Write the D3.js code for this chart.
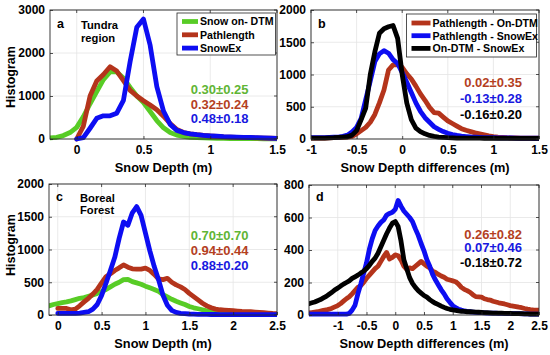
<!DOCTYPE html>
<html><head><meta charset="utf-8">
<script src="https://cdn.jsdelivr.net/npm/d3@7"></script>
<style>body{margin:0;background:#fff}svg{display:block}</style>
</head><body>
<svg id="c" width="550" height="355"></svg>
<script>
// ---------- DATA ----------
// bin centres (regular histogram grid) for each panel
const aBins = d3.range(-0.2, 1.5001, 0.05);
const bBins = d3.range(-1.0, 1.5001, 0.05);
const cBins = d3.range(-0.1, 2.5001, 0.05);
const dBins = d3.range(-1.5, 2.5001, 0.05);

// panel a – Tundra region
const aSnowOnDTM = [25,40,80,150,270,520,820,1100,1380,1560,1560,1420,1200,1000,850,640,430,260,150,90,60,40,30,25,20,18,15,12,10,10,8,8,6,5,5];
const aPathlength = [null,null,null,null,0,300,1000,1350,1500,1680,1580,1360,1130,1000,890,790,680,530,360,220,150,120,100,85,70,60,50,45,40,35,30,25,20,18,15];
const aSnowEx = [null,null,null,null,0,30,250,480,540,540,600,900,1800,2600,2790,2180,1220,650,340,200,150,120,100,85,75,65,55,50,45,40,35,30,25,20,15];

// panel b – differences, Tundra
const bPathOnDTM = [15,15,15,15,18,20,22,25,30,40, 80,130,180,260,380,560,760,1070,1150,1150, 1110,1010,930,820,700,600,490,410,400,340, 280,240,200,160,135,115,95,80,65,50, 38,30,25,20,18,16,15,14,13,12, 12];
const bPathSnowEx = [20,20,20,22,24,27,30,40,60,110, 180,320,610,900,1200,1320,1370,1330,1230,1170, 1030,880,720,560,430,330,260,190,150,115, 90,70,55,45,38,32,28,25,22,21, 20,19,18,17,16,15,14,13,13,12, 12];
const bOnDTMSnowEx = [15,15,15,15,18,20,25,30,35,60, 130,300,480,1000,1350,1640,1710,1740,1760,1560, 1000,560,300,170,115,80,55,40,30,25, 20,17,15,15,14,14,13,13,12,12, 12,11,11,11,10,10,10,10,10,10, 10];

// panel c – Boreal Forest
const cSnowOnDTM = [140,160,175,190,200,215,235,255,265,285, 305,330,360,390,430,470,500,540,545,510, 490,470,440,415,390,360,310,275,240,210, 185,160,130,110,95,80,65,55,45,38, 32,28,25,22,20,18,16,15,14,13, 12,11,10];
const cPathlength = [null,null,100,100,100,80,90,140,200,255, 320,390,490,585,630,680,720,765,730,705, 700,700,715,680,620,550,540,560,500,460, 430,390,330,280,230,180,140,110,90,80, 75,70,65,60,55,52,50,45,40,35, 30,25,22];
const cSnowEx = [null,null,25,25,25,25,25,30,40,50, 90,160,300,485,680,880,1170,1420,1370,1560, 1655,1520,1250,980,740,535,300,150,70,40, 25,20,15,12,10,10,9,8,8,7, 7,6,6,6,5,5,5,5,5,5, 5,5,5];

// panel d – differences, Boreal Forest
const dPathOnDTM = [12,15,18,20,24,28,31,36,42,50, 58,70,85,100,112,130,150,170,180,200, 226,245,265,285,300,330,360,385,345,355, 370,365,338,300,280,290,285,300,315,330, 315,300,290,270,262,250,240,232,220,215, 210,205,190,170,158,150,140,125,113,112, 110,100,95,92,85,80,75,72,68,63, 58,55,52,48,45,40,36,33,31,30, 30];
const dPathSnowEx = [5,5,5,5,5,5,5,5,5,5, 5,5,5,5,10,30,60,130,190,256, 320,405,470,520,548,570,585,615,625,632, 650,705,670,640,620,600,575,530,490,440, 395,340,300,250,215,185,155,130,100,78, 58,45,36,30,25,22,20,18,16,15, 14,13,12,12,11,11,10,10,10,9, 9,8,8,8,7,7,7,6,6,6, 5];
const dOnDTMSnowEx = [70,75,80,88,95,105,115,128,140,155, 165,178,190,200,210,225,235,245,258,270, 285,305,330,350,380,420,460,500,535,565, 575,545,455,340,285,230,195,170,150,135, 120,110,95,82,72,64,55,47,40,35, 31,28,25,23,22,20,20,19,18,17, 16,15,14,13,12,12,11,11,10,10, 10,9,9,8,8,7,7,6,6,5, 5];

// tick values
const aXTicks = [0,0.5,1,1.5], aYTicks = [0,1000,2000,3000];
const bXTicks = [-1,-0.5,0,0.5,1,1.5], bYTicks = [0,500,1000,1500,2000];
const cXTicks = [0,0.5,1,1.5,2,2.5], cYTicks = [0,500,1000,1500,2000];
const dXTicks = [-1.5,-1,-0.5,0,0.5,1,1.5,2,2.5], dYTicks = [0,200,400,600,800];

// legends and statistics
const aLegend = ["Snow on- DTM","Pathlength","SnowEx"];
const bLegend = ["Pathlength - On-DTM","Pathlength - SnowEx","On-DTM - SnowEx"];
const aStats = ["0.30\u00B10.25","0.32\u00B10.24","0.48\u00B10.18"];
const bStats = ["0.02\u00B10.35","-0.13\u00B10.28","-0.16\u00B10.20"];
const cStats = ["0.70\u00B10.70","0.94\u00B10.44","0.88\u00B10.20"];
const dStats = ["0.26\u00B10.82","0.07\u00B10.46","-0.18\u00B10.72"];

// ---------- STYLE ----------
const GREEN="#58cc26", RED="#b4341b", BLUE="#0d0df2", BLACK="#000000";
const GREEN_T="#5fb535", RED_T="#b43f1f", BLUE_T="#1818e0";
const FONT="'Liberation Sans', Arial, Helvetica, sans-serif";
const svg=d3.select("#c");
let clipId=0;

function fmt(d){ return String(d); }

function panel(cfg){
  const x=d3.scaleLinear().domain(cfg.xDomain).range([cfg.left,cfg.right]);
  const y=d3.scaleLinear().domain(cfg.yDomain).range([cfg.bottom,cfg.top]);
  const g=svg.append("g");
  g.append("rect").attr("x",cfg.left).attr("y",cfg.top).attr("width",cfg.right-cfg.left).attr("height",cfg.bottom-cfg.top).attr("fill","#fff");
  // grid
  g.selectAll(null).data(cfg.xTicks).join("line")
    .attr("x1",d=>x(d)).attr("x2",d=>x(d)).attr("y1",cfg.top).attr("y2",cfg.bottom)
    .attr("stroke","#e4e4e4").attr("stroke-width",0.8);
  g.selectAll(null).data(cfg.yTicks).join("line")
    .attr("x1",cfg.left).attr("x2",cfg.right).attr("y1",d=>y(d)).attr("y2",d=>y(d))
    .attr("stroke","#e4e4e4").attr("stroke-width",0.8);
  // clip
  const id="clip"+(clipId++);
  svg.append("clipPath").attr("id",id).append("rect")
    .attr("x",cfg.left).attr("y",cfg.top-5).attr("width",cfg.right-cfg.left).attr("height",cfg.bottom-cfg.top+8);
  const line=d3.line().defined(d=>d[1]!=null).x(d=>x(d[0])).y(d=>y(d[1]));
  const lg=g.append("g").attr("clip-path",`url(#${id})`);
  cfg.series.forEach(s=>{
    lg.append("path").datum(cfg.bins.map((b,i)=>[b,s.values[i]]))
      .attr("d",line).attr("fill","none").attr("stroke",s.color)
      .attr("stroke-width",4.8).attr("stroke-linejoin","round").attr("stroke-linecap","round");
  });
  // axes
  const xa=g.append("g").attr("transform",`translate(0,${cfg.bottom})`)
    .call(d3.axisBottom(x).tickValues(cfg.xLabelTicks||cfg.xTicks).tickFormat(fmt).tickSizeInner(-3).tickSizeOuter(0).tickPadding(6));
  const ya=g.append("g").attr("transform",`translate(${cfg.left},0)`)
    .call(d3.axisLeft(y).tickValues(cfg.yTicks).tickFormat(fmt).tickSizeInner(-3).tickSizeOuter(0).tickPadding(5));
  [xa,ya].forEach(a=>{
    a.select(".domain").remove();
    a.selectAll("line").attr("stroke","#262626").attr("stroke-width",0.8);
    a.selectAll("text").attr("font-family",FONT).attr("font-weight","bold").attr("font-size",12).attr("fill","#000");
  });
  // top/right ticks
  g.selectAll(null).data(cfg.xTicks).join("line").attr("x1",d=>x(d)).attr("x2",d=>x(d)).attr("y1",cfg.top).attr("y2",cfg.top+3).attr("stroke","#262626").attr("stroke-width",0.8);
  g.selectAll(null).data(cfg.yTicks).join("line").attr("x1",cfg.right).attr("x2",cfg.right-3).attr("y1",d=>y(d)).attr("y2",d=>y(d)).attr("stroke","#262626").attr("stroke-width",0.8);
  // box
  g.append("rect").attr("x",cfg.left).attr("y",cfg.top).attr("width",cfg.right-cfg.left).attr("height",cfg.bottom-cfg.top)
    .attr("fill","none").attr("stroke","#262626").attr("stroke-width",0.9);
  // labels
  g.append("text").attr("x",(cfg.left+cfg.right)/2).attr("y",cfg.bottom+32.5).attr("text-anchor","middle")
    .attr("font-family",FONT).attr("font-weight","bold").attr("font-size",12.8).text(cfg.xLabel);
  if(cfg.yLabel){
    g.append("text").attr("transform",`translate(15,${cfg.yLabelY}) rotate(-90)`).attr("text-anchor","middle")
      .attr("font-family",FONT).attr("font-weight","bold").attr("font-size",12.5).text(cfg.yLabel);
  }
  // panel tag and region
  g.append("text").attr("x",cfg.left+7).attr("y",cfg.tagY).attr("font-family",FONT).attr("font-weight","bold").attr("font-size",12.5).text(cfg.tag);
  (cfg.region||[]).forEach((t,i)=>{
    g.append("text").attr("x",cfg.left+31).attr("y",cfg.regionY+i*12.3).attr("font-family",FONT).attr("font-weight","bold").attr("font-size",11.2).text(t);
  });
  // stats
  cfg.stats.forEach((t,i)=>{
    g.append("text").attr("x",cfg.statX).attr("y",cfg.statY[i]).attr("text-anchor","end")
      .attr("font-family",FONT).attr("font-weight","bold").attr("font-size",13).attr("fill",cfg.statColors[i]).text(t);
  });
  // legend
  if(cfg.legend){
    const L=cfg.legend;
    g.append("rect").attr("x",L.x).attr("y",L.y).attr("width",L.w).attr("height",L.h)
      .attr("fill","#fff").attr("stroke","#262626").attr("stroke-width",0.8);
    L.items.forEach((t,i)=>{
      const yy=L.y+L.first+i*L.step;
      g.append("line").attr("x1",L.x+5).attr("x2",L.x+5+L.sw).attr("y1",yy).attr("y2",yy)
        .attr("stroke",L.colors[i]).attr("stroke-width",4.8);
      g.append("text").attr("x",L.x+7+L.sw).attr("y",yy+3.8).attr("font-family",FONT).attr("font-weight","bold")
        .attr("font-size",10.6).text(t);
    });
  }
}

panel({left:50,right:277,top:10,bottom:139,xDomain:[-0.2,1.5],yDomain:[0,3000],
  xTicks:aXTicks,yTicks:aYTicks,bins:aBins,
  series:[{values:aSnowOnDTM,color:GREEN},{values:aPathlength,color:RED},{values:aSnowEx,color:BLUE}],
  xLabel:"Snow Depth (m)",yLabel:"Histogram",yLabelY:77,tag:"a",tagY:27.5,region:["Tundra","region"],regionY:29.3,
  stats:aStats,statX:248.5,statY:[94,108.5,123],statColors:[GREEN_T,RED_T,BLUE_T],
  legend:{x:177,y:13,w:98.5,h:42,first:8.5,step:13.3,sw:16,items:aLegend,colors:[GREEN,RED,BLUE]}});

panel({left:311,right:539,top:10,bottom:139,xDomain:[-1,1.5],yDomain:[0,2000],
  xTicks:bXTicks,yTicks:bYTicks,bins:bBins,
  series:[{values:bPathOnDTM,color:RED},{values:bPathSnowEx,color:BLUE},{values:bOnDTMSnowEx,color:BLACK}],
  xLabel:"Snow Depth differences (m)",tag:"b",tagY:27.5,
  stats:bStats,statX:522,statY:[87,102.5,119],statColors:[RED_T,BLUE_T,BLACK],
  legend:{x:406.5,y:14,w:130,h:43,first:9,step:12.7,sw:19,items:bLegend,colors:[RED,BLUE,BLACK]}});

panel({left:49,right:277,top:184,bottom:315,xDomain:[-0.1,2.5],yDomain:[0,2000],
  xTicks:cXTicks,yTicks:cYTicks,bins:cBins,
  series:[{values:cSnowOnDTM,color:GREEN},{values:cPathlength,color:RED},{values:cSnowEx,color:BLUE}],
  xLabel:"Snow Depth (m)",yLabel:"Histogram",yLabelY:245,tag:"c",tagY:200.5,region:["Boreal","Forest"],regionY:202,
  stats:cStats,statX:248.5,statY:[239.5,255,270],statColors:[GREEN_T,RED_T,BLUE_T]});

panel({left:309,right:539,top:185,bottom:315,xDomain:[-1.5,2.5],yDomain:[0,800],
  xTicks:dXTicks,xLabelTicks:dXTicks.slice(1),yTicks:dYTicks,bins:dBins,
  series:[{values:dPathOnDTM,color:RED},{values:dPathSnowEx,color:BLUE},{values:dOnDTMSnowEx,color:BLACK}],
  xLabel:"Snow Depth differences (m)",tag:"d",tagY:201,
  stats:dStats,statX:522,statY:[238.5,252,267],statColors:[RED_T,BLUE_T,BLACK]});
</script>
</body></html>
